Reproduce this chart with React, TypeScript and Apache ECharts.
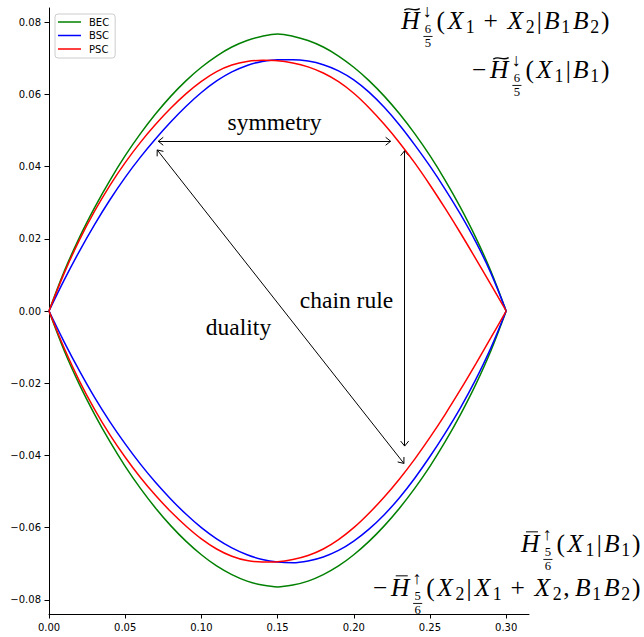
import React, { useEffect, useRef } from "react";
import * as echarts from "echarts";

// ---------- data ----------
const xValues = [0, 0.01, 0.02, 0.03, 0.04, 0.05, 0.06, 0.07, 0.08, 0.09, 0.1, 0.11, 0.12, 0.13, 0.14, 0.15,
  0.16, 0.17, 0.18, 0.19, 0.2, 0.21, 0.22, 0.23, 0.24, 0.25, 0.26, 0.27, 0.28, 0.29, 0.3];

const becUpper = [0, 0.011, 0.0204, 0.0287, 0.0362, 0.043, 0.0491, 0.0546, 0.0595, 0.0638, 0.0675, 0.0706, 0.0731, 0.0749, 0.0761, 0.0767,
  0.0761, 0.0749, 0.0731, 0.0706, 0.0675, 0.0638, 0.0595, 0.0546, 0.0491, 0.043, 0.0362, 0.0287, 0.0204, 0.011, 0];
const becLower = [0, -0.011, -0.0204, -0.0287, -0.0362, -0.043, -0.0491, -0.0546, -0.0595, -0.0638, -0.0675, -0.0706, -0.073, -0.0748, -0.0759, -0.0764,
  -0.0759, -0.0748, -0.073, -0.0706, -0.0675, -0.0638, -0.0595, -0.0546, -0.0491, -0.043, -0.0362, -0.0287, -0.0204, -0.011, 0];

const bscUpper = [0, 0.0086, 0.0166, 0.024, 0.0308, 0.037, 0.0426, 0.0477, 0.0524, 0.0567, 0.0605, 0.0637, 0.0662, 0.068, 0.0691, 0.0696,
  0.0696, 0.0692, 0.0682, 0.0665, 0.064, 0.0606, 0.0564, 0.0515, 0.046, 0.0401, 0.0337, 0.0268, 0.0192, 0.0105, 0];
const bscLower = [0, -0.0086, -0.0166, -0.024, -0.0307, -0.0368, -0.0424, -0.0475, -0.0521, -0.0563, -0.06, -0.0631, -0.0656, -0.0675, -0.0688, -0.0695,
  -0.0697, -0.0692, -0.0681, -0.0663, -0.0637, -0.0604, -0.0564, -0.0517, -0.0463, -0.0403, -0.0338, -0.0268, -0.019, -0.0102, 0];

const pscUpper = [0, 0.0105, 0.0197, 0.0277, 0.0348, 0.0411, 0.0467, 0.0517, 0.0562, 0.0602, 0.0636, 0.0663, 0.0681, 0.0691, 0.0694, 0.0693,
  0.0687, 0.0676, 0.0659, 0.0635, 0.0603, 0.0563, 0.0517, 0.0466, 0.041, 0.0349, 0.0284, 0.0216, 0.0145, 0.0073, 0];
const pscLower = [0, -0.0103, -0.0194, -0.0273, -0.0343, -0.0405, -0.0461, -0.0511, -0.0556, -0.0596, -0.0631, -0.0659, -0.0679, -0.0691, -0.0695, -0.0694,
  -0.0688, -0.0677, -0.0659, -0.0633, -0.06, -0.056, -0.0515, -0.0465, -0.041, -0.035, -0.0286, -0.0218, -0.0147, -0.0074, 0];

const xTicks = [0, 0.05, 0.1, 0.15, 0.2, 0.25, 0.3];
const yTicks = [-0.08, -0.06, -0.04, -0.02, 0, 0.02, 0.04, 0.06, 0.08];
const legendNames = ["BEC", "BSC", "PSC"];

// annotation arrows (data coordinates of the two tips)
const arrowFrom = [[0.0717, 0.047], [0.2334, 0.0444], [0.071, 0.0446]];
const arrowTo = [[0.2242, 0.047], [0.2334, -0.0374], [0.2329, -0.0422]];

// ---------- styles ----------
const GREEN = "#008000";
const BLUE = "#0000ff";
const RED = "#ff0000";
const SERIF = '"Liberation Serif", "Times New Roman", serif';
const SANS = '"DejaVu Sans", sans-serif';
const CENTRAL = 0.3375; // central-baseline offset of Liberation Serif (em)
const GLYPH = 1.06; // glyph size relative to the math em

type Tok =
  | { t: "i"; s: string; w: number }
  | { t: "r"; s: string; w: number }
  | { t: "sub"; s: string }
  | { t: "sp"; w: number }
  | { t: "H"; acc: "tilde" | "bar"; sup: string; num: string; den: string };

const tokWidth = (k: Tok) => (k.t === "sub" ? 0.448 : k.t === "H" ? 0.888 + 0.63 : k.w);

function textEl(s: string, cx: number, base: number, size: number, italic: boolean): any {
  return {
    type: "text",
    silent: true,
    style: {
      text: s,
      x: cx,
      y: base - CENTRAL * size,
      fontSize: size,
      lineHeight: Math.round(size * 0.9),
      fontFamily: SERIF,
      fontStyle: italic ? "italic" : "normal",
      fill: "#000",
      textAlign: "center",
      textVerticalAlign: "middle",
      align: "center",
      verticalAlign: "middle",
    },
  };
}

function mathElements(toks: Tok[], rightX: number, baseline: number, S: number): any[] {
  const total = toks.reduce((a, k) => a + tokWidth(k), 0) * S;
  let x = rightX - total;
  const G = S * GLYPH;
  const els: any[] = [];
  for (const k of toks) {
    if (k.t === "i" || k.t === "r") {
      els.push(textEl(k.s, x + (k.w * S) / 2, baseline, G, k.t === "i"));
      x += k.w * S;
    } else if (k.t === "sp") {
      x += k.w * S;
    } else if (k.t === "sub") {
      els.push(textEl(k.s, x + 0.2 * S, baseline + 0.15 * S, 0.7 * G, false));
      x += 0.448 * S;
    } else {
      const hc = x + 0.444 * S;
      els.push(textEl("H", hc, baseline, G, true));
      const ac = hc + 0.07 * S;
      if (k.acc === "tilde") {
        const hw = 0.32 * S;
        const cy = baseline - 0.82 * S;
        const a = 0.05 * S;
        els.push({
          type: "bezierCurve",
          silent: true,
          shape: {
            x1: ac - hw, y1: cy + a * 0.6,
            cpx1: ac - hw * 0.2, cpy1: cy - a * 2.4,
            cpx2: ac + hw * 0.2, cpy2: cy + a * 2.4,
            x2: ac + hw, y2: cy - a * 0.6,
          },
          style: { stroke: "#000", lineWidth: 1.4, fill: null },
        });
      } else {
        const hw = 0.25 * S;
        const cy = baseline - 0.84 * S;
        els.push({
          type: "line",
          silent: true,
          shape: { x1: ac - hw, y1: cy, x2: ac + hw, y2: cy },
          style: { stroke: "#000", lineWidth: 1 },
        });
      }
      const hx = x + 0.888 * S;
      els.push(textEl(k.sup, hx + 0.256 * S, baseline - 0.5 * S, 0.7 * G, false));
      const fc = hx + 0.29 * S;
      els.push(textEl(k.num, fc, baseline + 0.17 * S, 0.5 * G, false));
      els.push({
        type: "line",
        silent: true,
        shape: { x1: fc - 0.19 * S, y1: baseline + 0.31 * S, x2: fc + 0.19 * S, y2: baseline + 0.31 * S },
        style: { stroke: "#000", lineWidth: 0.9 },
      });
      els.push(textEl(k.den, fc, baseline + 0.76 * S, 0.5 * G, false));
      x += (0.888 + 0.63) * S;
    }
  }
  return els;
}

const I = (s: string, w: number): Tok => ({ t: "i", s, w });
const R = (s: string, w: number): Tok => ({ t: "r", s, w });
const SB = (s: string): Tok => ({ t: "sub", s });
const SP = (w: number): Tok => ({ t: "sp", w });
const X = I("X", 0.828);
const B = I("B", 0.759);
const LP = R("(", 0.389);
const RP = R(")", 0.389);
const VB = R("|", 0.278);
const PLUS: Tok[] = [SP(0.222), R("+", 0.778), SP(0.222)];
const MINUS = R("\u2212", 0.778);

const formulaA: Tok[] = [
  { t: "H", acc: "tilde", sup: "\u2193", num: "6", den: "5" },
  LP, X, SB("1"), ...PLUS, X, SB("2"), VB, B, SB("1"), B, SB("2"), RP,
];
const formulaB: Tok[] = [
  MINUS, { t: "H", acc: "tilde", sup: "\u2193", num: "6", den: "5" },
  LP, X, SB("1"), VB, B, SB("1"), RP,
];
const formulaC: Tok[] = [
  { t: "H", acc: "bar", sup: "\u2191", num: "5", den: "6" },
  LP, X, SB("1"), VB, B, SB("1"), RP,
];
const formulaD: Tok[] = [
  MINUS, { t: "H", acc: "bar", sup: "\u2191", num: "5", den: "6" },
  LP, X, SB("2"), VB, X, SB("1"), ...PLUS, X, SB("2"), R(",", 0.278), SP(0.167), B, SB("1"), B, SB("2"), RP,
];

const MS = 24;
const TS = 23.5;

const wordEl = (s: string, cx: number, base: number): any => ({
  type: "text",
  silent: true,
  style: {
    text: s, x: cx, y: base - CENTRAL * TS, fontSize: TS, fontFamily: SERIF, fill: "#000",
    textAlign: "center", textVerticalAlign: "middle", align: "center", verticalAlign: "middle",
  },
});

const pairs = (ys: number[]) => xValues.map((x, i) => [x, ys[i]]);

const fmt = (v: number) => (v < -1e-9 ? "\u2212" : "") + Math.abs(v).toFixed(2);

function lineSeries(name: string, ys: number[], color: string) {
  return {
    name,
    type: "line",
    data: pairs(ys),
    symbol: "none",
    showSymbol: false,
    smooth: 0.35,
    lineStyle: { color, width: 1.5 },
    itemStyle: { color },
    emphasis: { disabled: true },
    silent: true,
  };
}

const HEAD_LEN = 5;
const HEAD_HALF = 4;

export default function App() {
  const ref = useRef<HTMLDivElement>(null);
  useEffect(() => {
    const chart = echarts.init(ref.current!, null, { renderer: "svg" });
    const axisCommon = {
      type: "value",
      splitLine: { show: false },
      axisLine: { show: true, onZero: false, lineStyle: { color: "#000", width: 1 } },
    };
    const option: any = {
      animation: false,
      backgroundColor: "#ffffff",
      grid: { left: 49, right: 115, top: 8, bottom: 23, containLabel: false, outerBoundsMode: "none" },
      xAxis: {
        ...axisCommon,
        min: 0,
        max: 0.315,
        axisTick: { show: true, length: 4.5, customValues: xTicks, lineStyle: { color: "#000" } },
        axisLabel: { customValues: xTicks, formatter: fmt, fontSize: 10, fontFamily: SANS, color: "#000", margin: 8 },
      },
      yAxis: {
        ...axisCommon,
        min: -0.0839,
        max: 0.0839,
        axisTick: { show: true, length: 4.5, customValues: yTicks, lineStyle: { color: "#000" } },
        axisLabel: { customValues: yTicks, formatter: fmt, fontSize: 10, fontFamily: SANS, color: "#000", margin: 8 },
      },
      legend: {
        data: legendNames,
        orient: "vertical",
        left: 55,
        top: 14,
        padding: [3, 6, 4, 3],
        itemGap: 3.5,
        itemWidth: 23,
        itemHeight: 1.5,
        icon: "rect",
        selectedMode: false,
        backgroundColor: "rgba(255,255,255,0.8)",
        borderColor: "#cccccc",
        borderWidth: 1,
        borderRadius: 3,
        textStyle: { fontSize: 10, fontFamily: SANS, color: "#000", padding: [0, 0, 0, 3] },
      },
      series: [
        lineSeries("BEC", becUpper, GREEN),
        lineSeries("BSC", bscUpper, BLUE),
        lineSeries("PSC", pscUpper, RED),
        lineSeries("BEC", becLower, GREEN),
        lineSeries("BSC", bscLower, BLUE),
        lineSeries("PSC", pscLower, RED),
        {
          name: "annotations",
          type: "line",
          data: [],
          silent: true,
          markLine: {
            silent: true,
            animation: false,
            symbol: ["none", "none"],
            label: { show: false },
            emphasis: { disabled: true },
            lineStyle: { color: "#000", width: 1, type: "solid" },
            data: arrowFrom.map((f, i) => [{ coord: f }, { coord: arrowTo[i] }]),
          },
        },
      ],
    };
    chart.setOption(option);

    // open arrow heads at the tips, placed through the chart's own scales
    const heads: any[] = [];
    arrowFrom.forEach((f, i) => {
      const p0 = chart.convertToPixel({ gridIndex: 0 }, f) as number[];
      const p1 = chart.convertToPixel({ gridIndex: 0 }, arrowTo[i]) as number[];
      [[p0, p1], [p1, p0]].forEach(([tip, other]) => {
        const dx = tip[0] - other[0];
        const dy = tip[1] - other[1];
        const len = Math.hypot(dx, dy) || 1;
        const ux = dx / len, uy = dy / len;
        const nx = -uy, ny = ux;
        heads.push({
          type: "polyline",
          silent: true,
          shape: {
            points: [
              [tip[0] - ux * HEAD_LEN + nx * HEAD_HALF, tip[1] - uy * HEAD_LEN + ny * HEAD_HALF],
              [tip[0], tip[1]],
              [tip[0] - ux * HEAD_LEN - nx * HEAD_HALF, tip[1] - uy * HEAD_LEN - ny * HEAD_HALF],
            ],
          },
          style: { stroke: "#000", lineWidth: 1, fill: null },
        });
      });
    });

    chart.setOption({
      graphic: {
        elements: [
          wordEl("symmetry", 274.5, 130),
          wordEl("chain rule", 346.5, 308),
          wordEl("duality", 238.5, 335),
          ...heads,
          ...mathElements(formulaA, 610, 29, MS),
          ...mathElements(formulaB, 610, 78, MS),
          ...mathElements(formulaC, 641, 552, MS),
          ...mathElements(formulaD, 641, 596, MS),
        ],
      },
    });
    return () => chart.dispose();
  }, []);
  return (
    <div
      ref={ref}
      style={{ position: "fixed", left: 0, top: 0, width: 644, height: 637, background: "#fff" }}
    />
  );
}
